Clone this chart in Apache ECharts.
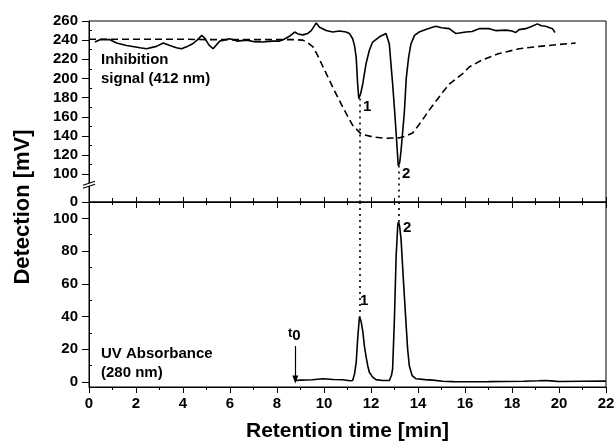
<!DOCTYPE html>
<html>
<head>
<meta charset="utf-8">
<script src="https://cdn.jsdelivr.net/npm/echarts@6/dist/echarts.min.js"></script>
<style>
  html, body { margin: 0; background: #fff; }
  #chart { width: 616px; height: 443px; }
</style>
</head>
<body>
<div id="chart"></div>
<script>
// inhibition signal (412 nm), solid trace, [min, mV]
const inhibitionSignal = [
  [0.25, 238], [0.47, 240.5], [0.89, 240.5], [1.18, 237], [1.6, 234.5], [2.17, 232],
  [2.45, 231], [2.87, 233.5], [3.16, 237], [3.44, 234.5], [3.72, 232], [3.94, 231],
  [4.15, 233], [4.43, 236.5], [4.6, 240], [4.8, 245], [4.93, 242], [5.1, 235],
  [5.28, 231], [5.56, 239], [5.99, 241.5], [6.3, 239], [6.7, 240], [7.0, 238.5],
  [7.4, 238], [7.8, 239], [8.11, 239], [8.3, 241], [8.53, 244], [8.75, 248.5],
  [8.89, 246.5], [9.1, 245.5], [9.31, 247], [9.46, 250], [9.67, 258], [9.81, 253.5],
  [10.09, 250], [10.37, 248.5], [10.66, 249.5], [10.94, 248.5], [11.08, 247],
  [11.22, 241.5], [11.3, 234], [11.37, 222], [11.43, 195], [11.48, 179], [11.56, 184],
  [11.65, 194.5], [11.79, 215.5], [11.93, 229.5], [12.07, 238], [12.36, 243.5],
  [12.64, 247], [12.72, 245], [12.78, 236], [12.85, 215], [12.92, 194.5], [13.0, 168],
  [13.07, 142.5], [13.16, 109], [13.22, 112], [13.28, 125], [13.42, 165], [13.5, 200],
  [13.6, 222], [13.7, 236], [13.85, 245], [14.05, 248.5], [14.33, 251], [14.55, 253],
  [14.76, 254.5], [15.0, 253], [15.33, 252], [15.6, 247], [15.75, 247.5], [16.04, 248.5],
  [16.3, 249], [16.6, 252], [17.03, 252], [17.3, 250], [17.74, 250.5], [18.0, 249.5],
  [18.16, 248], [18.3, 251], [18.58, 252], [18.8, 254], [19.08, 257], [19.25, 255],
  [19.43, 254.5], [19.72, 252], [19.83, 248]
];

// dashed trace in the upper panel
const dashedSignal = [
  [0, 241], [1, 241], [2, 241], [3, 241], [4, 241], [5, 240.5], [6, 240.5], [7, 240.5],
  [8, 240.5], [8.7, 240.5], [9.1, 240], [9.3, 237.5], [9.53, 233], [9.75, 223],
  [9.96, 212], [10.37, 191], [10.8, 170], [11.22, 151], [11.58, 142], [12.07, 139],
  [12.64, 137.5], [13.21, 138], [13.5, 140], [13.77, 143], [14.05, 152], [14.48, 167],
  [15.0, 184], [15.33, 194], [15.9, 205], [16.18, 212], [16.74, 219.5], [17.45, 226],
  [18.3, 231], [19.17, 233.5], [20.0, 235.5], [20.71, 237]
];

// UV absorbance (280 nm), lower panel
const uvAbsorbance = [
  [8.78, 1], [9.0, 1.2], [9.5, 1.4], [9.96, 2], [10.4, 1.6], [10.8, 1.4], [11.1, 0.8],
  [11.22, 1], [11.3, 5], [11.37, 12], [11.44, 28], [11.51, 40], [11.58, 37], [11.65, 31],
  [11.72, 22], [11.79, 15.5], [11.86, 10], [11.93, 6], [12.07, 3], [12.21, 1.5],
  [12.5, 1], [12.78, 1], [12.87, 4], [12.92, 8], [13.0, 40], [13.07, 77], [13.14, 96],
  [13.17, 98], [13.22, 95], [13.28, 87], [13.38, 62], [13.49, 36], [13.56, 20],
  [13.63, 10], [13.75, 4], [13.92, 2], [14.3, 1.5], [14.63, 1.2], [15.05, 0.5],
  [15.5, 0.3], [16.18, 0.2], [17.0, 0.3], [17.6, 0.4], [18.5, 0.5], [19.1, 0.8],
  [19.43, 1], [19.8, 0.6], [20.0, 0.4], [21.0, 0.5], [22.0, 0.6]
];

const peakNames = ['1', '2'];
const peakTimes = [11.5, 13.16];
const peakInhibition = [179, 109];
const peakUv = [40, 98];
const t0Time = 8.78;

const topFloor = 71;        // value drawn at the broken "0" of the upper axis
const topMax = 260;
const topTicks = [0, 100, 120, 140, 160, 180, 200, 220, 240, 260];
const topMinorTicks = [110, 130, 150, 170, 190, 210, 230, 250];
const bottomMin = -3;
const bottomMax = 110;
const bottomTicks = [0, 20, 40, 60, 80, 100];
const bottomMinorTicks = [10, 30, 50, 70, 90];

const FONT = '"Liberation Sans", Arial, sans-serif';
const chart = echarts.init(document.getElementById('chart'));

const topTickValues = topTicks.map(v => (v === 0 ? topFloor : v));

function valueAxisBase(extra) {
  return Object.assign({
    type: 'value',
    axisLine: { show: true, onZero: false, lineStyle: { color: '#000', width: 1 } },
    splitLine: { show: false }
  }, extra);
}

const option = {
  animation: false,
  backgroundColor: '#fff',
  grid: [
    { left: 89, right: 10, top: 21, height: 181, show: true, borderColor: '#000', borderWidth: 1, outerBoundsMode: 'none' },
    { left: 89, right: 10, top: 202, height: 185, show: true, borderColor: '#000', borderWidth: 1, outerBoundsMode: 'none' }
  ],
  xAxis: [
    {
      gridIndex: 0, type: 'value', min: 0, max: 22, interval: 2, position: 'bottom',
      axisLine: { onZero: false, lineStyle: { color: '#000' } },
      axisTick: { inside: true, length: 5, lineStyle: { color: '#000' } },
      minorTick: { show: true, splitNumber: 2, length: 4, lineStyle: { color: '#000' } },
      axisLabel: { show: false }, splitLine: { show: false }
    },
    {
      gridIndex: 1, type: 'value', min: 0, max: 22, interval: 2, position: 'bottom',
      axisLine: { onZero: false, lineStyle: { color: '#000' } },
      axisTick: { length: 6, lineStyle: { color: '#000' } },
      minorTick: { show: true, splitNumber: 2, length: 3, lineStyle: { color: '#000' } },
      axisLabel: { color: '#000', fontSize: 15, fontWeight: 'bold', fontFamily: FONT, margin: 9 },
      splitLine: { show: false },
      name: 'Retention time [min]', nameLocation: 'middle', nameGap: 34,
      nameTextStyle: { color: '#000', fontSize: 21, fontWeight: 'bold', fontFamily: FONT }
    },
    {
      gridIndex: 1, type: 'value', min: 0, max: 22, interval: 2, position: 'top',
      axisLine: { onZero: false, lineStyle: { color: '#000' } },
      axisTick: { inside: true, length: 6, lineStyle: { color: '#000' } },
      minorTick: { show: true, splitNumber: 2, length: 3, lineStyle: { color: '#000' } },
      axisLabel: { show: false }, splitLine: { show: false }
    }
  ],
  yAxis: [
    valueAxisBase({
      gridIndex: 0, min: topFloor, max: topMax,
      axisTick: { length: 7, customValues: topTickValues, lineStyle: { color: '#000' } },
      axisLabel: {
        customValues: topTickValues, margin: 11,
        formatter: v => (v === topFloor ? '0' : String(v)),
        color: '#000', fontSize: 15, fontWeight: 'bold', fontFamily: FONT
      }
    }),
    valueAxisBase({
      gridIndex: 0, min: topFloor, max: topMax,
      axisLine: { show: false },
      axisTick: { length: 3, customValues: topMinorTicks, lineStyle: { color: '#000' } },
      axisLabel: { show: false }
    }),
    valueAxisBase({
      gridIndex: 1, min: bottomMin, max: bottomMax,
      axisTick: { length: 7, customValues: bottomTicks, lineStyle: { color: '#000' } },
      axisLabel: {
        customValues: bottomTicks, margin: 11,
        color: '#000', fontSize: 15, fontWeight: 'bold', fontFamily: FONT
      }
    }),
    valueAxisBase({
      gridIndex: 1, min: bottomMin, max: bottomMax,
      axisLine: { show: false },
      axisTick: { length: 3, customValues: bottomMinorTicks, lineStyle: { color: '#000' } },
      axisLabel: { show: false }
    })
  ],
  series: [
    {
      type: 'line', xAxisIndex: 0, yAxisIndex: 0, data: dashedSignal,
      showSymbol: false, lineStyle: { color: '#000', width: 1.6, type: [7, 4] }, z: 2
    },
    {
      type: 'line', xAxisIndex: 0, yAxisIndex: 0, data: inhibitionSignal,
      showSymbol: false, lineStyle: { color: '#000', width: 1.6 }, z: 3,
      markLine: {
        silent: true, symbol: 'none', label: { show: false },
        lineStyle: { color: '#000', width: 1.6, type: [2, 4] },
        data: peakTimes.map((t, i) => [{ coord: [t, peakInhibition[i]] }, { coord: [t, topFloor] }])
      },
      markPoint: {
        symbol: 'circle', symbolSize: 0,
        label: { show: true, formatter: '{b}', color: '#000', fontSize: 15, fontWeight: 'bold', fontFamily: FONT },
        data: peakNames.map((n, i) => ({ name: n, coord: [peakTimes[i], peakInhibition[i]], label: { offset: [8, 8] } }))
      }
    },
    {
      type: 'line', xAxisIndex: 1, yAxisIndex: 2, data: uvAbsorbance,
      showSymbol: false, lineStyle: { color: '#000', width: 1.6 }, z: 3,
      markLine: {
        silent: true, symbol: 'none', label: { show: false },
        lineStyle: { color: '#000', width: 1.6, type: [2, 4] },
        data: peakTimes.map((t, i) => [{ coord: [t, bottomMax] }, { coord: [t, peakUv[i]] }]).concat([
          [{ coord: [t0Time, 22], symbol: 'none', lineStyle: { type: 'solid', width: 1.2 } },
           { coord: [t0Time, 1.6], symbol: 'triangle', symbolSize: [6, 8], symbolRotate: 180, lineStyle: { type: 'solid', width: 1.2 } }]
        ])
      },
      markPoint: {
        symbol: 'circle', symbolSize: 0,
        label: { show: true, formatter: '{b}', color: '#000', fontSize: 15, fontWeight: 'bold', fontFamily: FONT },
        data: peakNames.map((n, i) => ({
          name: n, coord: [peakTimes[i], peakUv[i]],
          label: { offset: i === 0 ? [5, -16] : [9, 6] }
        })).concat([{
          name: 't0', coord: [t0Time, 22],
          label: {
            formatter: '{a|t}{b|0}', offset: [-1, -10],
            rich: {
              a: { fontSize: 13, fontWeight: 'bold', fontFamily: FONT, color: '#000', padding: [0, 0, 6, 0] },
              b: { fontSize: 15, fontWeight: 'bold', fontFamily: FONT, color: '#000' }
            }
          }
        }])
      }
    }
  ],
  graphic: [
    {
      type: 'text', x: 23, y: 207, rotation: Math.PI / 2,
      style: { text: 'Detection [mV]', font: 'bold 22px ' + FONT, fill: '#000', align: 'center', verticalAlign: 'middle' }
    },
    {
      type: 'text', x: 101, y: 50,
      style: { text: 'Inhibition\nsignal (412 nm)', font: 'bold 15px ' + FONT, fill: '#000', lineHeight: 19 }
    },
    {
      type: 'text', x: 101, y: 344,
      style: { text: 'UV Absorbance\n(280 nm)', font: 'bold 15px ' + FONT, fill: '#000', lineHeight: 19.4 }
    }
  ]
};

chart.setOption(option);

// axis-break marks on the upper y axis
const bx = chart.convertToPixel({ xAxisIndex: 0 }, 0);
const by = chart.convertToPixel({ yAxisIndex: 0 }, 89);
chart.setOption({
  graphic: option.graphic.concat([
    {
      type: 'polygon', z: 100,
      shape: { points: [[bx - 6, by + 3.5], [bx + 6, by - 0.5], [bx + 6, by - 3.5], [bx - 6, by + 0.5]] },
      style: { fill: '#fff' }
    },
    { type: 'line', z: 101, shape: { x1: bx - 6, y1: by + 3.5, x2: bx + 6, y2: by - 0.5 }, style: { stroke: '#000', lineWidth: 1.2 } },
    { type: 'line', z: 101, shape: { x1: bx - 6, y1: by + 0.5, x2: bx + 6, y2: by - 3.5 }, style: { stroke: '#000', lineWidth: 1.2 } }
  ])
});
</script>
</body>
</html>
